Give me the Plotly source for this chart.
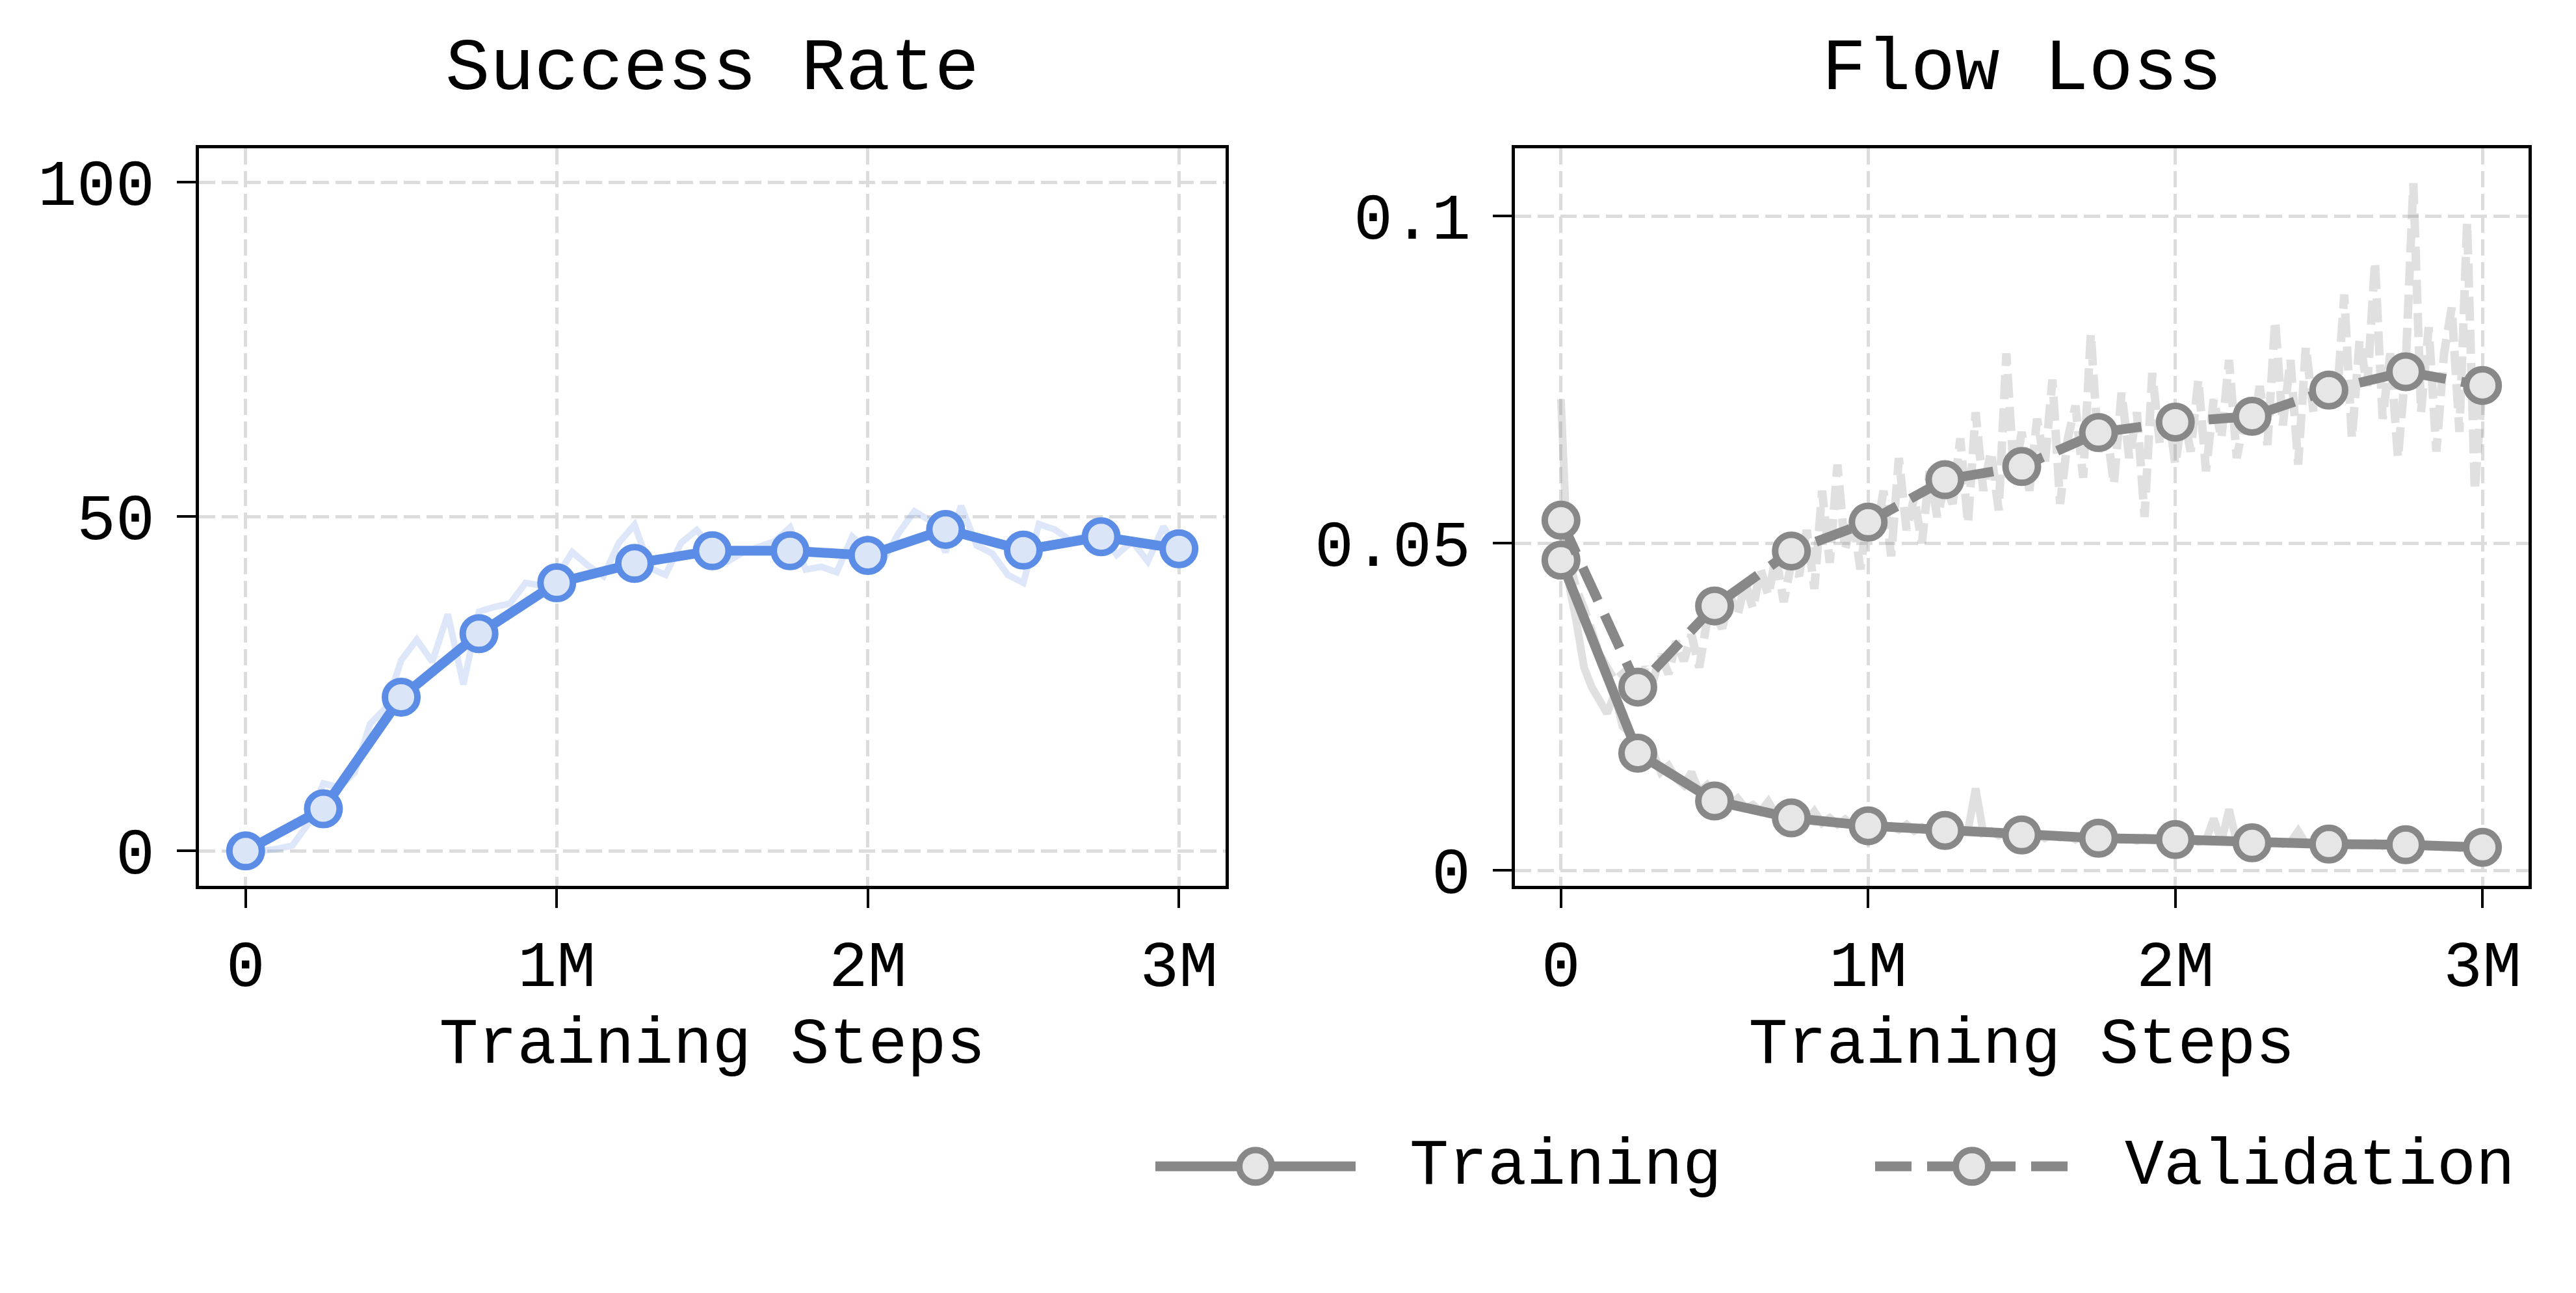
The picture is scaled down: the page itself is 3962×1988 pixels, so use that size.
import plotly.graph_objects as go
from plotly.subplots import make_subplots

# %% Data
# evaluation checkpoints (steps)
eval_steps = [0, 250000, 500000, 750000, 1000000, 1250000, 1500000, 1750000,
              2000000, 2250000, 2500000, 2750000, 3000000]
success_rate = [0.0, 6.3, 23.0, 32.5, 40.1, 43.0, 44.9, 44.9, 44.2, 48.1, 45.0, 47.0, 45.2]

# raw success rate, every 50k steps
sr_raw_steps = [i * 50000 for i in range(61)]
sr_raw = [0.0, 0.0, 0.3, 0.8, 4.0, 10.1, 9.5, 11.7, 19.0, 21.4,
          28.5, 31.6, 28.3, 35.4, 24.9, 35.8, 36.5, 37.0, 40.1, 39.7,
          41.0, 44.7, 42.7, 41.1, 46.1, 48.8, 42.3, 41.3, 46.1, 48.0,
          45.3, 43.3, 44.7, 45.6, 46.3, 48.4, 42.1, 42.5, 41.7, 47.0,
          44.9, 43.5, 47.6, 50.8, 49.4, 44.7, 51.6, 45.7, 44.5, 41.3,
          40.1, 48.9, 48.1, 46.5, 47.1, 47.7, 44.3, 46.3, 43.3, 48.5,
          44.9]

train_loss = [0.0474, 0.0179, 0.0106, 0.0080, 0.0068, 0.0061, 0.0054, 0.0049,
              0.0047, 0.0042, 0.0040, 0.0039, 0.0035]
val_loss = [0.0535, 0.0280, 0.0404, 0.0488, 0.0532, 0.0597, 0.0617, 0.0669,
            0.0685, 0.0694, 0.0734, 0.0762, 0.0741]

# raw losses, every 25k steps
loss_raw_steps = [i * 25000 for i in range(121)]
train_raw = [0.072, 0.044, 0.038, 0.031, 0.028, 0.026, 0.024, 0.027, 0.022, 0.021, 0.019,
             0.017, 0.018, 0.015, 0.016, 0.014, 0.013, 0.015, 0.012, 0.013, 0.011,
             0.012, 0.010, 0.011, 0.0095, 0.010, 0.009, 0.0105, 0.0085, 0.009, 0.008,
             0.0085, 0.0075, 0.009, 0.0072, 0.008, 0.007, 0.0078, 0.0068, 0.0072, 0.0066,
             0.0071, 0.0064, 0.0068, 0.0062, 0.0070, 0.0060, 0.0066, 0.0059, 0.0064, 0.0058,
             0.0063, 0.0056, 0.0061, 0.0125, 0.0057, 0.0060, 0.0053, 0.0058, 0.0052, 0.0056,
             0.0051, 0.0055, 0.0049, 0.0054, 0.0050, 0.0053, 0.0047, 0.0052, 0.0048, 0.0051,
             0.0046, 0.0050, 0.0047, 0.0049, 0.0045, 0.0050, 0.0046, 0.0048, 0.0044, 0.0047,
             0.0045, 0.0048, 0.0043, 0.0046, 0.0079, 0.0044, 0.0093, 0.0043, 0.0046, 0.0042,
             0.0045, 0.0041, 0.0044, 0.0040, 0.0043, 0.0060, 0.0041, 0.0043, 0.0039, 0.0042,
             0.0040, 0.0043, 0.0038, 0.0041, 0.0039, 0.0042, 0.0037, 0.0040, 0.0038, 0.0041,
             0.0037, 0.0039, 0.0036, 0.0038, 0.0035, 0.0037, 0.0034, 0.0036, 0.0030, 0.0035]
val_raw = [0.052, 0.047, 0.043, 0.040, 0.036, 0.033, 0.031, 0.029, 0.030, 0.027, 0.028,
           0.031, 0.029, 0.033, 0.030, 0.035, 0.032, 0.036, 0.031, 0.038, 0.039,
           0.037, 0.042, 0.039, 0.044, 0.040, 0.046, 0.042, 0.048, 0.041, 0.047,
           0.045, 0.052, 0.043, 0.058, 0.047, 0.062, 0.049, 0.054, 0.046, 0.055,
           0.051, 0.058, 0.048, 0.063, 0.052, 0.057, 0.050, 0.061, 0.054, 0.059,
           0.056, 0.066, 0.053, 0.070, 0.058, 0.064, 0.055, 0.079, 0.060, 0.067,
           0.058, 0.069, 0.062, 0.075, 0.056, 0.066, 0.071, 0.060, 0.082, 0.064,
           0.068, 0.059, 0.073, 0.063, 0.070, 0.054, 0.076, 0.065, 0.071, 0.062,
           0.070, 0.064, 0.075, 0.061, 0.072, 0.066, 0.078, 0.063, 0.069, 0.067,
           0.074, 0.065, 0.084, 0.068, 0.078, 0.062, 0.080, 0.070, 0.076, 0.072,
           0.071, 0.088, 0.066, 0.081, 0.074, 0.093, 0.069, 0.079, 0.063, 0.077,
           0.105, 0.070, 0.083, 0.064, 0.079, 0.086, 0.067, 0.099, 0.058, 0.074]

x_tickvals = [0, 1000000, 2000000, 3000000]
x_ticktext = ['0', '1M', '2M', '3M']

# %% Style
FONT = 'Liberation Mono'
BLUE = '#5b8de6'
BLUE_LIGHT = '#dbe5f8'
GRAY = '#888888'
GRAY_LIGHT = '#e6e6e6'
W, H = 3962, 1988
LW = 15           # main line width
MS, MLW = 50, 10  # marker size / edge width
DASH = '56px,24px'

fig = make_subplots(rows=1, cols=2)

# Success rate
fig.add_trace(go.Scatter(x=sr_raw_steps, y=sr_raw, mode='lines',
                         line=dict(color=BLUE, width=10), opacity=0.2,
                         showlegend=False), row=1, col=1)
fig.add_trace(go.Scatter(x=eval_steps, y=success_rate, mode='lines+markers',
                         line=dict(color=BLUE, width=LW),
                         marker=dict(size=MS, color=BLUE_LIGHT, line=dict(color=BLUE, width=MLW)),
                         showlegend=False), row=1, col=1)

# Flow loss
fig.add_trace(go.Scatter(x=loss_raw_steps, y=train_raw, mode='lines',
                         line=dict(color=GRAY, width=12), opacity=0.25,
                         showlegend=False), row=1, col=2)
fig.add_trace(go.Scatter(x=loss_raw_steps, y=val_raw, mode='lines',
                         line=dict(color=GRAY, width=13, dash='37px,14px'), opacity=0.25,
                         showlegend=False), row=1, col=2)
fig.add_trace(go.Scatter(x=eval_steps, y=train_loss, mode='lines+markers',
                         line=dict(color=GRAY, width=LW),
                         marker=dict(size=MS, color=GRAY_LIGHT, line=dict(color=GRAY, width=MLW)),
                         showlegend=False), row=1, col=2)
fig.add_trace(go.Scatter(x=eval_steps, y=val_loss, mode='lines+markers',
                         line=dict(color=GRAY, width=LW, dash=DASH),
                         marker=dict(size=MS, color=GRAY_LIGHT, line=dict(color=GRAY, width=MLW)),
                         showlegend=False), row=1, col=2)

# axes
axis_common = dict(showline=True, linecolor='black', linewidth=5, mirror=True,
                   ticks='outside', ticklen=29, tickwidth=4, tickcolor='black',
                   showgrid=True, gridcolor='#dcdcdc', gridwidth=5, griddash='25px,10px',
                   zeroline=False, tickfont=dict(family=FONT, size=100, color='black'))
fig.update_xaxes(axis_common)
fig.update_yaxes(axis_common)

y_dom = [1 - 1382 / H, 1 - 225 / H]
fig.update_xaxes(domain=[298 / W, 1877 / W], range=[-150000, 3150000],
                 tickvals=x_tickvals, ticktext=x_ticktext,
                 title=dict(text='Training Steps', font=dict(family=FONT, size=100, color='black'), standoff=20),
                 row=1, col=1)
fig.update_xaxes(domain=[2322 / W, 3881 / W], range=[-150000, 3150000],
                 tickvals=x_tickvals, ticktext=x_ticktext,
                 title=dict(text='Training Steps', font=dict(family=FONT, size=100, color='black'), standoff=20),
                 row=1, col=2)
fig.update_yaxes(domain=y_dom, range=[-5.24, 105.05], tickvals=[0, 50, 100],
                 ticktext=['0', '50', '100'], ticklabelstandoff=14, row=1, col=1)
fig.update_yaxes(domain=y_dom, range=[-0.0024, 0.1103], tickvals=[0, 0.05, 0.1],
                 ticktext=['0', '0.05', '0.1'], ticklabelstandoff=14, row=1, col=2)

# subplot titles
for text, xc in [('Success Rate', (298 + 1877) / 2 / W), ('Flow Loss', (2322 + 3881) / 2 / W)]:
    fig.add_annotation(text=text, x=xc, y=1 - 101 / H, xref='paper', yref='paper',
                       xanchor='center', yanchor='middle', showarrow=False,
                       font=dict(family=FONT, size=114, color='black'))

# legend (drawn manually so the key lines are long enough)
leg_y = 1 - 1822 / H
for x0, x1, xm, dash, label, xt in [(1769, 2077, 1923, 'solid', 'Training', 2158),
                                    (2876, 3189, 3025, DASH, 'Validation', 3258)]:
    fig.add_shape(type='line', xref='paper', yref='paper', x0=x0 / W, x1=x1 / W,
                  y0=leg_y, y1=leg_y, line=dict(color=GRAY, width=LW, dash=dash))
    fig.add_shape(type='circle', xref='paper', yref='paper', xsizemode='pixel', ysizemode='pixel',
                  xanchor=xm / W, yanchor=leg_y, x0=-25, x1=25, y0=-25, y1=25,
                  fillcolor=GRAY_LIGHT, line=dict(color=GRAY, width=MLW))
    fig.add_annotation(text=label, x=xt / W, y=leg_y, xref='paper', yref='paper',
                       xanchor='left', yanchor='middle', showarrow=False,
                       font=dict(family=FONT, size=100, color='black'))

fig.update_layout(width=W, height=H, margin=dict(l=0, r=0, t=0, b=0),
                  plot_bgcolor='white', paper_bgcolor='white', showlegend=False,
                  font=dict(family=FONT, color='black'))

fig.write_html('out.html')
